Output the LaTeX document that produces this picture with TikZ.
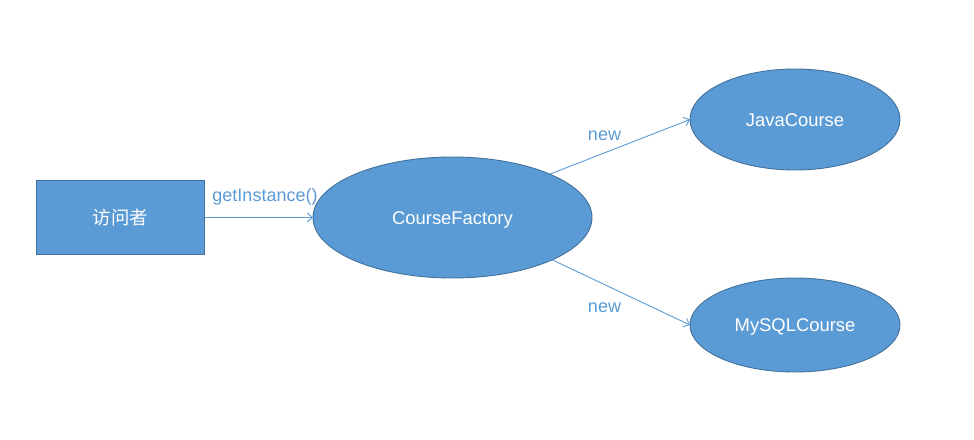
\documentclass[tikz,border=0pt]{standalone}
\usepackage{fontspec}
\setmainfont{Liberation Sans}
\newfontfamily\cjk{Noto Sans CJK SC}
\usetikzlibrary{shapes.geometric,arrows.meta}
\definecolor{boxfill}{HTML}{5B9BD5}
\definecolor{boxline}{HTML}{41719C}
\definecolor{arrowc}{HTML}{5B9BD5}
\definecolor{labelc}{HTML}{5B9BD5}
\tikzset{
  shapebase/.style={fill=boxfill, draw=boxline, line width=0.9pt, text=white, inner sep=0pt, outer sep=0pt,
    font=\fontsize{18.4}{22}\selectfont},
  actorbox/.style={shapebase, rectangle, minimum width=168pt, minimum height=74pt,
    text height=15.3pt, text depth=1.3pt},
  classell/.style={shapebase, ellipse, text height=13.2pt, text depth=0pt},
  conn/.style={draw=arrowc, line width=0.9pt, -{Straight Barb[length=5pt,width=9pt]}},
  lbl/.style={text=labelc, anchor=base, inner sep=0pt, font=\fontsize{18}{22}\selectfont}
}
\begin{document}
\begin{tikzpicture}[x=1pt,y=-1pt]
\useasboundingbox (0,0) rectangle (974,439);
\node[actorbox] (visitor) at (120.5,217.5) {\cjk 访问者};
\node[classell, minimum width=279pt, minimum height=121pt] (cf) at (452.5,217.5) {CourseFactory};
\node[classell, minimum width=210pt, minimum height=101pt] (java) at (795,119.5) {JavaCourse};
\node[classell, minimum width=210pt, minimum height=94pt] (mysql) at (795,325) {MySQLCourse};
\draw[conn] (visitor.east) -- (cf.west);
\draw[conn] (cf.24.4) -- (java.west);
\draw[conn] (cf.-23.8) -- (mysql.west);
\node[lbl] (l1) at (265,201.5) {getInstance()};
\node[lbl] (l2) at (604.5,140) {new};
\node[lbl] (l3) at (604.5,312.3) {new};
\end{tikzpicture}
\end{document}
